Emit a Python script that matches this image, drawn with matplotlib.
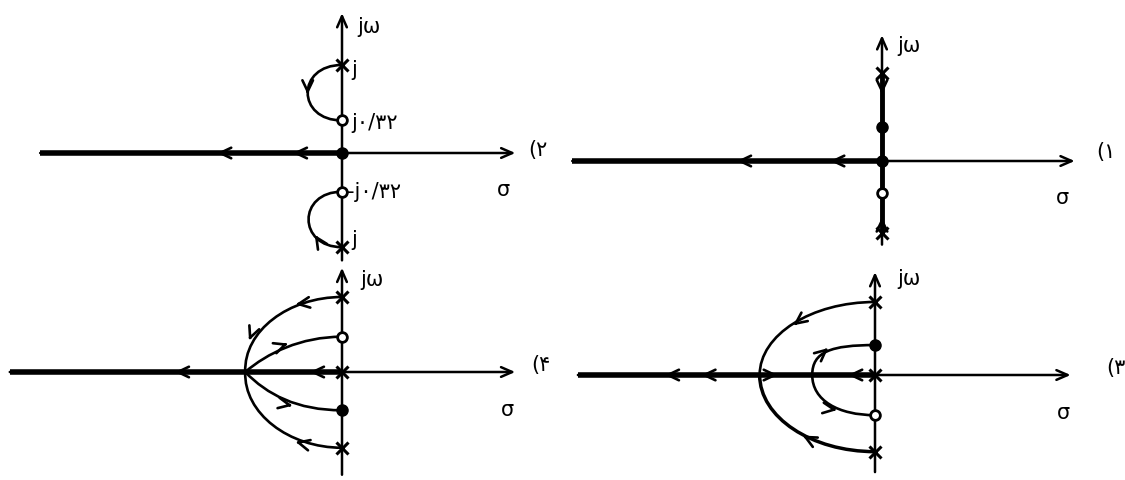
import numpy as np
import matplotlib
matplotlib.use('Agg')
import matplotlib.pyplot as plt
from matplotlib.path import Path
from matplotlib.patches import PathPatch

plt.rcParams['font.family'] = ['DejaVu Sans']

W, H = 1125, 480

# ---------------- data (sigma, omega units) ----------------
# panel 1 (top right)
p1_poles = [1.0, -0.82]
p1_filled = [0.39]
p1_zeros = [-0.36]
p1_real_arrows = [-1.65, -0.59]
p1_jw_arrows = [0.76, -0.64]
p1_jw_dirs = [-1, 1]

# panel 2 (top left)
p2_poles = [1.0, -1.07]
p2_zeros = [0.37, -0.44]
p2_arc_width = [0.39, 0.38]
p2_real_arrows = [-1.42, -0.56]
p2_labels = ['j', 'j۰/۳۲', '-j۰/۳۲', 'j']
p2_label_w = [0.94, 0.34, -0.44, -0.99]

# panel 3 (bottom right)
p3_poles = [1.0, -1.05]
p3_filled = [0.41]
p3_zeros = [-0.55]
p3_break = [-1.58, -0.86]
p3_left_arrows = [-2.88, -2.38, -0.37]
p3_right_arrows = [-1.33]

# panel 4 (bottom left)
p4_poles = [1.0, -1.01]
p4_filled = [-0.51]
p4_zeros = [0.47]
p4_break = [-1.29]
p4_left_arrows = [-2.23, -0.43]


fig = plt.figure(figsize=(W / 100, H / 100), dpi=100)


def panel(ox, oy, s):
    # one transparent axes over the whole figure, origin at pixel (ox, oy)
    ax = fig.add_axes([0, 0, 1, 1])
    ax.set_xlim(-ox / s, (W - ox) / s)
    ax.set_ylim(-(H - oy) / s, oy / s)
    ax.axis('off')
    ax.patch.set_alpha(0)
    return ax


def axis_arrow(ax, x0, y0, x1, y1, lw=1.8):
    ax.annotate('', xy=(x1, y1), xytext=(x0, y0),
                arrowprops=dict(arrowstyle='->,head_length=0.8,head_width=0.35',
                                lw=lw, color='k', shrinkA=0, shrinkB=0))


def chevron(ax, x, y, dx, dy, size=0.05):
    n = np.hypot(dx, dy)
    ax.annotate('', xy=(x, y), xytext=(x - size * dx / n, y - size * dy / n),
                arrowprops=dict(arrowstyle='->,head_length=0.8,head_width=0.38',
                                lw=1.9, color='k', shrinkA=0, shrinkB=0))


def bezier(ax, pts, lw=1.9):
    codes = [Path.MOVETO] + [Path.CURVE4] * (len(pts) - 1)
    ax.add_patch(PathPatch(Path(pts, codes), fill=False, lw=lw, color='k',
                           capstyle='round'))


def poles(ax, w, x=0.0):
    ax.plot([x] * len(w), w, 'kx', ms=8, mew=2.2, zorder=5)


def zeros(ax, w):
    ax.plot([0] * len(w), w, 'o', ms=7, mfc='white', mec='k', mew=2, zorder=5)


def filled(ax, w):
    ax.plot([0] * len(w), w, 'o', ms=8, color='k', zorder=5)


txt = dict(fontsize=15, color='k', va='center')

# ---------------- panel 2 ----------------
s = 88
ax = panel(342, 153, s)
axis_arrow(ax, 0, -1.22, 0, 1.59)
axis_arrow(ax, -3.43, 0, 1.97, 0)
ax.plot([-3.43, 0], [0, 0], 'k', lw=4, solid_capstyle='butt')
poles(ax, p2_poles)
zeros(ax, p2_zeros)
filled(ax, [0])
for top, bot, wd in [(p2_poles[0], p2_zeros[0], p2_arc_width[0]),
                     (p2_zeros[1], p2_poles[1], p2_arc_width[1])]:
    k = wd * 4 / 3
    bezier(ax, [(0, top), (-k, top), (-k, bot), (0, bot)])
chevron(ax, -p2_arc_width[0], (p2_poles[0] + p2_zeros[0]) / 2 - 0.02, 0, -1)
chevron(ax, -0.31, -0.93, -0.55, 0.85)
for x in p2_real_arrows:
    chevron(ax, x, 0, -1, 0)
ax.text(0.17, 1.43, 'jω', ha='left', **txt)
for lab, w in zip(p2_labels, p2_label_w):
    ax.text(0.11 if lab != '-j۰/۳۲' else 0.06, w, lab, ha='left', **txt)
ax.text(1.84, -0.42, 'σ', ha='center', **txt)
ax.text(2.23, 0.03, '(۲', ha='center', **txt)

# ---------------- panel 1 ----------------
s = 88
ax = panel(882, 161, s)
axis_arrow(ax, 0, -0.95, 0, 1.43)
axis_arrow(ax, -3.52, 0, 2.19, 0)
ax.plot([-3.52, 0], [0, 0], 'k', lw=4, solid_capstyle='butt')
ax.plot([0, 0], [p1_poles[1], p1_poles[0]], 'k', lw=3.5, solid_capstyle='butt')
poles(ax, p1_poles)
filled(ax, p1_filled)
zeros(ax, p1_zeros)
filled(ax, [0])
for w, d in zip(p1_jw_arrows, p1_jw_dirs):
    chevron(ax, 0, w, 0, d)
for x in p1_real_arrows:
    chevron(ax, x, 0, -1, 0)
ax.text(0.17, 1.31, 'jω', ha='left', **txt)
ax.text(2.05, -0.42, 'σ', ha='center', **txt)
ax.text(2.55, 0.1, '(۱', ha='center', **txt)

# ---------------- panel 4 ----------------
s = 75
ax = panel(342, 372, s)
axis_arrow(ax, 0, -1.37, 0, 1.39)
axis_arrow(ax, -4.43, 0, 2.31, 0)
ax.plot([-4.43, 0], [0, 0], 'k', lw=4, solid_capstyle='butt')
b = p4_break[0]
bezier(ax, [(0, p4_poles[0]), (-0.71, p4_poles[0]), (b - 0.02, 0.55), (b, 0)])
bezier(ax, [(b, 0), (b - 0.02, -0.55), (-0.71, p4_poles[1]), (0, p4_poles[1])])
bezier(ax, [(0, p4_zeros[0]), (-0.55, p4_zeros[0]), (-1.0, 0.25), (b, 0)])
bezier(ax, [(b, 0), (-1.0, -0.3), (-0.6, p4_filled[0]), (0, p4_filled[0])])
poles(ax, p4_poles)
poles(ax, [0])
zeros(ax, p4_zeros)
filled(ax, p4_filled)
chevron(ax, -0.62, 0.9, -1, -0.15)
chevron(ax, -1.24, 0.42, -0.4, -1)
chevron(ax, -0.72, 0.38, 1, 0.35)
chevron(ax, -0.66, -0.45, 1, -0.2)
chevron(ax, -0.62, -0.93, -1, 0.25)
for x in p4_left_arrows:
    chevron(ax, x, 0, -1, 0)
ax.text(0.24, 1.23, 'jω', ha='left', **txt)
ax.text(2.2, -0.5, 'σ', ha='center', **txt)
ax.text(2.65, 0.1, '(۴', ha='center', **txt)

# ---------------- panel 3 ----------------
s = 73
ax = panel(875, 375, s)
axis_arrow(ax, 0, -1.33, 0, 1.41)
axis_arrow(ax, -4.07, 0, 2.68, 0)
ax.plot([-4.07, 0], [0, 0], 'k', lw=4, solid_capstyle='butt')
bo, bi = p3_break
bezier(ax, [(0, p3_poles[0]), (-0.87, p3_poles[0]), (bo, 0.55), (bo, 0)])
bezier(ax, [(bo, 0), (bo, -0.58), (-0.87, p3_poles[1]), (0, p3_poles[1])], lw=2.5)
bezier(ax, [(bi, 0), (bi, 0.32), (-0.6, p3_filled[0]), (0, p3_filled[0])])
bezier(ax, [(bi, 0), (bi, -0.35), (-0.5, p3_zeros[0]), (0, p3_zeros[0])])
poles(ax, p3_poles)
poles(ax, [0])
filled(ax, p3_filled)
zeros(ax, p3_zeros)
chevron(ax, -1.12, 0.68, -0.8, -0.6)
chevron(ax, -0.99, -0.83, -0.85, 0.45)
chevron(ax, -0.64, 0.37, 0.7, 0.6)
chevron(ax, -0.52, -0.48, 1, -0.15)
for x in p3_left_arrows:
    chevron(ax, x, 0, -1, 0)
for x in p3_right_arrows:
    chevron(ax, x, 0, 1, 0)
ax.text(0.3, 1.32, 'jω', ha='left', **txt)
ax.text(2.58, -0.52, 'σ', ha='center', **txt)
ax.text(3.3, 0.1, '(۳', ha='center', **txt)

fig.savefig('out.png', dpi=100, facecolor='white')
